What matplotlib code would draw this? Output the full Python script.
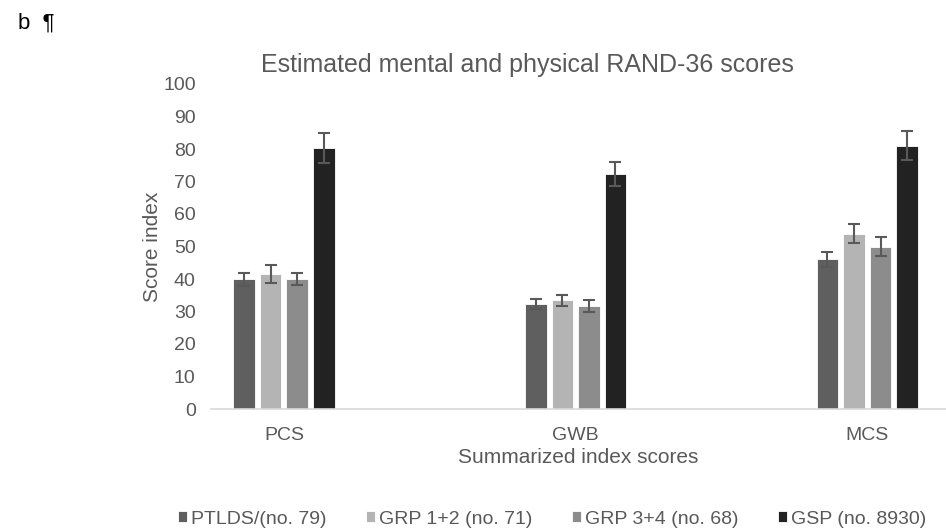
import numpy as np
import matplotlib.pyplot as plt

plt.rcParams['font.family'] = ['Liberation Sans', 'DejaVu Sans']

categories = ["PCS", "GWB", "MCS"]
series = ["PTLDS/(no. 79)", "GRP 1+2 (no. 71)", "GRP 3+4 (no. 68)", "GSP (no. 8930)"]
values = [
    [40.0, 32.3, 46.1],
    [41.5, 33.5, 54.0],
    [40.0, 31.7, 50.0],
    [80.3, 72.3, 81.0],
]
errors = [
    [2.0, 1.6, 2.3],
    [2.7, 1.7, 3.0],
    [1.9, 1.7, 3.0],
    [4.5, 3.6, 4.5],
]
colors = ["#5f5f5f", "#b4b4b4", "#8c8c8c", "#222222"]
text_col = "#595959"

fig = plt.figure(figsize=(9.46, 5.31), dpi=100)
ax = fig.add_axes([211 / 946, 1 - 409 / 531, (946 - 211) / 946, (409 - 84) / 531])

x = np.arange(len(categories))
width = 0.074
step = 0.091
for i, (name, vals, errs, c) in enumerate(zip(series, values, errors, colors)):
    pos = x + (i - 1.5) * step
    ax.bar(pos, vals, width, color=c, label=name, edgecolor="white", linewidth=0.6,
           yerr=errs, error_kw=dict(ecolor="#595959", elinewidth=1.5, capsize=4, capthick=1.5))

ax.set_ylim(0, 100)
ax.set_yticks(range(0, 101, 10))
ax.set_xlim(-0.25, 2.27)
ax.set_xticks(x)
ax.set_xticklabels(categories)
for s in ["top", "right", "left"]:
    ax.spines[s].set_visible(False)
ax.spines["bottom"].set_color("#d9d9d9")
ax.spines["bottom"].set_linewidth(1.2)
ax.tick_params(axis="both", length=0, labelsize=14, colors=text_col)
ax.tick_params(axis="y", pad=11)
ax.tick_params(axis="x", pad=13)

ax.set_ylabel("Score index", fontsize=15, color=text_col, labelpad=1)
ax.set_xlabel("Summarized index scores", fontsize=15, color=text_col, labelpad=3)
fig.text(527 / 946, 1 - 65 / 531, "Estimated mental and physical RAND-36 scores",
         ha="center", va="center", fontsize=18, color=text_col)
fig.text(18 / 946, 1 - 23 / 531, "b  \u00b6", ha="left", va="center", fontsize=16, color="black")

fig.legend(loc="center", bbox_to_anchor=(552 / 946, 1 - 519 / 531), ncol=4, frameon=False,
           fontsize=14, handlelength=0.5, handleheight=0.5, handletextpad=0.2,
           columnspacing=2.0, labelcolor=text_col)

fig.savefig("out.png", dpi=100)
